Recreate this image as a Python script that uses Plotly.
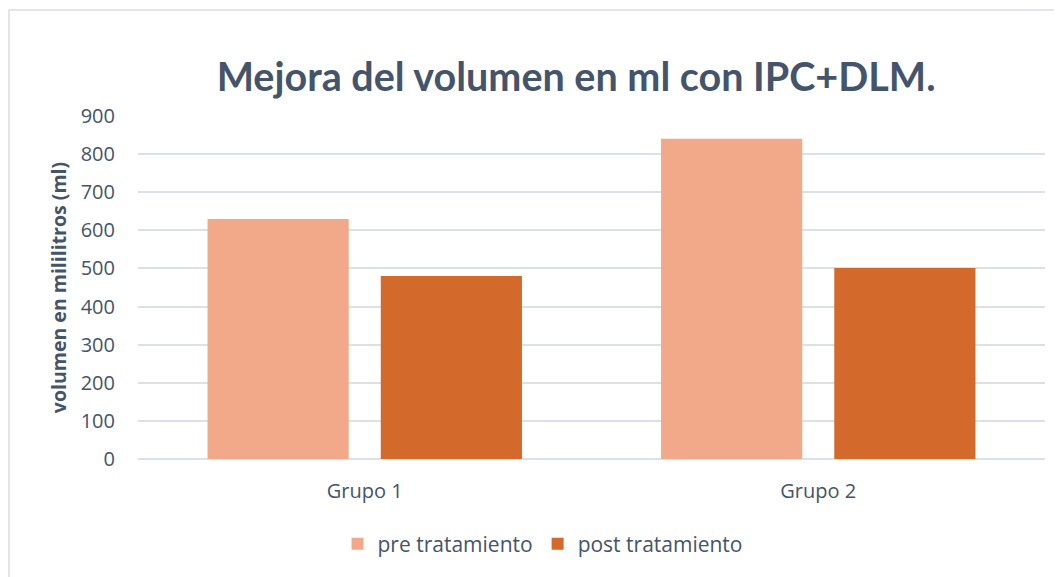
import plotly.graph_objects as go

## Data
grupos = ["Grupo 1", "Grupo 2"]
pre_tratamiento = [630, 840]
post_tratamiento = [480, 501]
y_ticks = [0, 100, 200, 300, 400, 500, 600, 700, 800, 900]

text_color = "#44546A"
grid_color = "#DCE1E8"

fig = go.Figure()
fig.add_trace(go.Bar(
    x=grupos, y=pre_tratamiento, name="pre tratamiento",
    marker=dict(color="#F2A989", line=dict(width=0)),
))
fig.add_trace(go.Bar(
    x=grupos, y=post_tratamiento, name="post tratamiento",
    marker=dict(color="#D4692C", line=dict(width=0)),
))

# the page body adds an 8px margin, so the figure is 8px smaller
fig.update_layout(
    width=1054, height=569,
    margin=dict(l=130, r=17, t=108, b=118),
    paper_bgcolor="white", plot_bgcolor="white",
    barmode="group", bargap=0.236, bargroupgap=0.185,
    font=dict(family="Open Sans", color=text_color),
    title=dict(
        text="<b>Mejora del volumen en ml con IPC+DLM.</b>",
        x=0.539, xanchor="center", y=0.879, yanchor="middle",
        font=dict(family="Lato", size=39.5, color=text_color),
    ),
    xaxis=dict(
        showgrid=False, showline=False, ticks="",
        tickfont=dict(size=20, color=text_color, family="Open Sans"),
        ticklabelstandoff=18,
    ),
    yaxis=dict(
        range=[0, 900], tickvals=y_ticks, showgrid=True,
        gridcolor=grid_color, gridwidth=1.5,
        zeroline=True, zerolinecolor=grid_color, zerolinewidth=1.5,
        tickfont=dict(size=20, color=text_color, family="Open Sans"),
        ticklabelstandoff=22,
        title=dict(text="<b>volumen en mililitros (ml)</b>",
                   font=dict(size=19.5, color=text_color, family="Open Sans"),
                   standoff=8),
    ),
    legend=dict(
        orientation="h", x=0.446, xanchor="center", y=-0.248, yanchor="middle",
        font=dict(size=21, color=text_color, family="Open Sans"),
        itemwidth=30, traceorder="normal",
    ),
    shapes=[dict(
        type="rect", xref="paper", yref="paper",
        x0=-0.1422, x1=1.2, y0=-0.6, y1=1.309,
        line=dict(color="#D9DEE6", width=1.5), fillcolor="rgba(0,0,0,0)",
        layer="below",
    )],
)

fig.write_html("out.html")
